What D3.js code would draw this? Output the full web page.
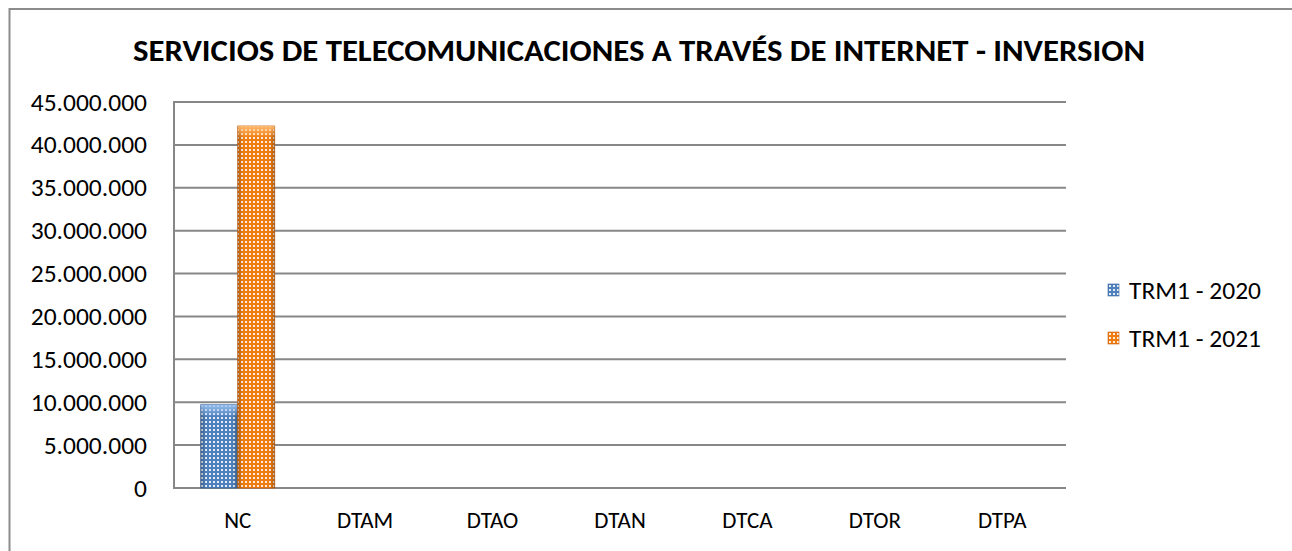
<!DOCTYPE html>
<html><head><meta charset="utf-8">
<script src="https://cdn.jsdelivr.net/npm/d3@7"></script>
<style>body{margin:0;background:#fff;} svg{display:block;} text{font-family:Carlito,"Open Sans","Liberation Sans",sans-serif;fill:#000;}</style>
</head><body>
<svg id="c" width="1292" height="551"></svg>
<script>
const categories = ["NC","DTAM","DTAO","DTAN","DTCA","DTOR","DTPA"];
const series2020 = [9700000,0,0,0,0,0,0];
const series2021 = [42200000,0,0,0,0,0,0];
const seriesNames = ["TRM1 - 2020","TRM1 - 2021"];
const yTicks = [0,5000000,10000000,15000000,20000000,25000000,30000000,35000000,40000000,45000000];
const title = "SERVICIOS DE TELECOMUNICACIONES A TRAVÉS DE INTERNET - INVERSION";

(function(){
const svg = d3.select("#c");
const defs = svg.append("defs");
const colors = [{base:"#4f81bd",dark:"#3a659c",light:"#9cc3ef"},{base:"#f07d12",dark:"#c9600a",light:"#ffc07a"}];
colors.forEach((c,i)=>{
  const p = defs.append("pattern").attr("id","pat"+i).attr("patternUnits","userSpaceOnUse").attr("width",4).attr("height",4);
  p.append("rect").attr("width",4).attr("height",4).attr("fill",c.base);
  p.append("rect").attr("x",1).attr("y",1).attr("width",2).attr("height",2).attr("fill","#fff").attr("opacity",0.85);
  const g = defs.append("linearGradient").attr("id","grad"+i).attr("x1",0).attr("x2",1).attr("y1",0).attr("y2",0);
  g.append("stop").attr("offset","0%").attr("stop-color","#000").attr("stop-opacity",0.25);
  g.append("stop").attr("offset","15%").attr("stop-color","#000").attr("stop-opacity",0);
  g.append("stop").attr("offset","85%").attr("stop-color","#000").attr("stop-opacity",0);
  g.append("stop").attr("offset","100%").attr("stop-color","#000").attr("stop-opacity",0.25);
  const gt = defs.append("linearGradient").attr("id","gtop"+i).attr("x1",0).attr("x2",0).attr("y1",0).attr("y2",1);
  gt.append("stop").attr("offset","0%").attr("stop-color",c.light).attr("stop-opacity",0.9);
  gt.append("stop").attr("offset","100%").attr("stop-color",c.light).attr("stop-opacity",0);
});

// outer border
svg.append("path").attr("d","M9.5,560 V9 H1300").attr("fill","none").attr("stroke","#8c8c8c").attr("stroke-width",2);

const pl=174, pr=1066, pt=102, pb=488;
const x = d3.scaleBand().domain(categories).range([pl,pr]);
const y = d3.scaleLinear().domain([0,45000000]).range([pb,pt]);

// gridlines
svg.append("g").selectAll("line").data(yTicks).join("line")
  .attr("x1",pl).attr("x2",pr).attr("y1",d=>y(d)).attr("y2",d=>y(d))
  .attr("stroke","#878787").attr("stroke-width",2);
// y axis line
svg.append("line").attr("x1",pl).attr("x2",pl).attr("y1",pt-1).attr("y2",pb+1).attr("stroke","#878787").attr("stroke-width",2);

// y labels
const fmt = d => d===0 ? "0" : d3.format(",")(d).replace(/,/g,".");
svg.append("g").selectAll("text").data(yTicks).join("text")
  .attr("x",147).attr("y",d=>y(d)+8.5).attr("text-anchor","end").attr("font-size",25.5).text(fmt);

// x labels
svg.append("g").selectAll("text").data(categories).join("text")
  .attr("x",d=>x(d)+x.bandwidth()/2).attr("y",528).attr("text-anchor","middle").attr("font-size",23).text(d=>d);

// bars
const bw = 37;
const data = [series2020, series2021];
data.forEach((s,i)=>{
  const g = svg.append("g");
  const bars = categories.map((c,j)=>({c,v:s[j]})).filter(d=>d.v>0);
  const xs = d => x(d.c)+x.bandwidth()/2 + (i===0?-bw:0);
  g.selectAll("rect.b").data(bars).join("rect").attr("class","b")
    .attr("x",xs).attr("y",d=>y(d.v)).attr("width",bw).attr("height",d=>pb-y(d.v))
    .attr("fill","url(#pat"+i+")").attr("stroke",colors[i].dark).attr("stroke-width",0.8);
  g.selectAll("rect.s").data(bars).join("rect").attr("class","s")
    .attr("x",xs).attr("y",d=>y(d.v)).attr("width",bw).attr("height",d=>pb-y(d.v))
    .attr("fill","url(#grad"+i+")");
  g.selectAll("rect.t").data(bars).join("rect").attr("class","t")
    .attr("x",xs).attr("y",d=>y(d.v)).attr("width",bw).attr("height",12)
    .attr("fill","url(#gtop"+i+")");
});

// title
svg.append("text").attr("x",639).attr("y",61).attr("text-anchor","middle").attr("font-size",30)
  .attr("font-weight","bold").attr("textLength",1012).attr("lengthAdjust","spacingAndGlyphs").text(title);

// legend
const leg = svg.append("g");
seriesNames.forEach((n,i)=>{
  const yy = 290 + i*48;
  leg.append("rect").attr("x",1108).attr("y",yy-6).attr("width",11).attr("height",12).attr("fill","url(#pat"+i+")").attr("stroke",colors[i].dark).attr("stroke-width",0.6);
  leg.append("text").attr("x",1129).attr("y",yy+8.5).attr("font-size",25.5).text(n);
});
})();
</script>
</body></html>
